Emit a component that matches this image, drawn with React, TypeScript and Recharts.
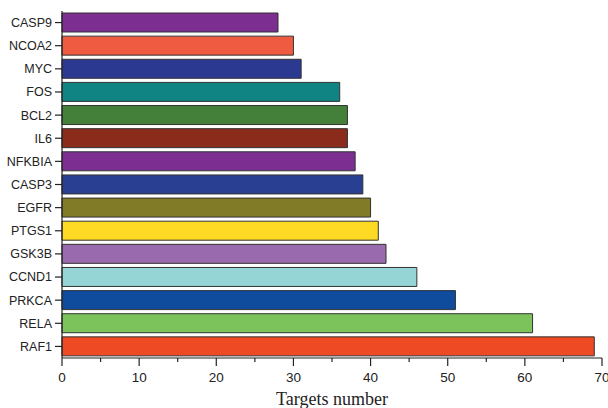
import React from "react";
import { BarChart, Bar, XAxis, YAxis, Cell } from "recharts";

const genes = [
  "CASP9", "NCOA2", "MYC", "FOS", "BCL2", "IL6", "NFKBIA", "CASP3",
  "EGFR", "PTGS1", "GSK3B", "CCND1", "PRKCA", "RELA", "RAF1",
];
const targets = [28, 30, 31, 36, 37, 37, 38, 39, 40, 41, 42, 46, 51, 61, 69];
const barColors = [
  "#7D2F91", "#EF5B41", "#2B3990", "#0F8483", "#44803A", "#8B2B1C", "#7D2F91",
  "#283F92", "#817A26", "#FEDA25", "#996AAE", "#96D5D5", "#0F4C9E", "#7BC35A",
  "#EE4B25",
];
const xTicks = [0, 5, 10, 15, 20, 25, 30, 35, 40, 45, 50, 55, 60, 65, 70];

const data = genes.map((g, i) => ({ name: g, value: targets[i] }));

// x ticks: long tick + label on tens, short tick on fives
const XTick = (props: any) => {
  const { x, y, payload } = props;
  const major = payload.value % 10 === 0;
  return (
    <g>
      <line x1={x} y1={y} x2={x} y2={y + (major ? 8 : 4)} stroke="#222" strokeWidth={1.2} />
      {major && (
        <text
          x={x}
          y={y + 24}
          textAnchor="middle"
          fontSize={13.5}
          fontFamily="'Liberation Sans', Arial, sans-serif"
          fill="#222"
        >
          {payload.value}
        </text>
      )}
    </g>
  );
};

export default function App() {
  return (
    <div style={{ position: "absolute", left: 0, top: 0, width: 608, height: 408, background: "#fff" }}>
      <BarChart
        width={608}
        height={408}
        data={data}
        layout="vertical"
        margin={{ top: 11, right: 6, bottom: 0, left: 0 }}
      >
        <XAxis
          type="number"
          domain={[0, 70]}
          ticks={xTicks}
          interval={0}
          height={50}
          axisLine={{ stroke: "#222", strokeWidth: 1.2 }}
          tickLine={false}
          tickSize={0}
          tickMargin={0}
          tick={<XTick />}
          label={{
            value: "Targets number",
            position: "insideBottom",
            offset: 3,
            fill: "#222",
            fontSize: 18,
            fontFamily: "'Liberation Serif', 'Times New Roman', serif",
          }}
        />
        <YAxis
          type="category"
          dataKey="name"
          width={62}
          interval={0}
          axisLine={{ stroke: "#222", strokeWidth: 1.2 }}
          tickLine={{ stroke: "#222", strokeWidth: 1.2 }}
          tickSize={7}
          tickMargin={3}
          tick={{ fill: "#222", fontSize: 12.5, fontFamily: "'Liberation Sans', Arial, sans-serif" }}
        />
        <Bar dataKey="value" barSize={19} stroke="#333" strokeWidth={1} isAnimationActive={false}>
          {data.map((d, i) => (
            <Cell key={d.name} fill={barColors[i]} />
          ))}
        </Bar>
      </BarChart>
    </div>
  );
}
